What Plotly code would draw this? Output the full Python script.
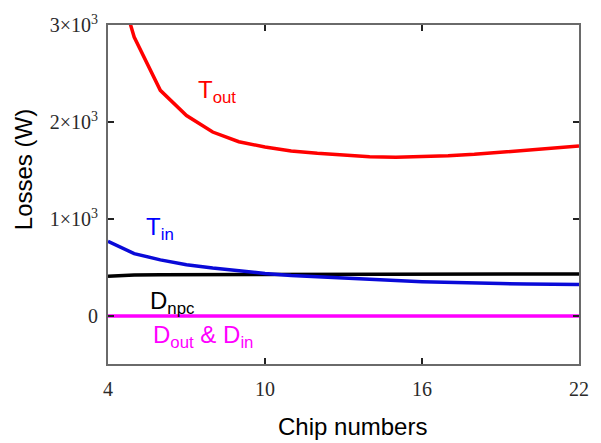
import plotly.graph_objects as go

chips = [4, 5, 6, 7, 8, 9, 10, 11, 12, 13, 14, 15, 16, 17, 18, 19, 20, 21, 22]
t_out = [3800, 2880, 2330, 2070, 1900, 1800, 1745, 1705, 1680, 1660, 1645, 1640, 1645, 1655, 1670, 1690, 1710, 1730, 1755]
t_in = [772, 645, 580, 530, 495, 465, 440, 420, 405, 392, 380, 366, 355, 347, 340, 335, 332, 330, 325]
d_npc = [410, 424, 426, 427, 428, 429, 430, 430, 431, 432, 432, 433, 433, 433, 434, 434, 434, 435, 435]
d_out_in = [0] * len(chips)

x_ticks = [4, 10, 16, 22]
x_ticklabels = ["4", "10", "16", "22"]
y_ticks = [0, 1000, 2000, 3000]
y_ticklabels = ["0", "1×10<sup>3</sup>", "2×10<sup>3</sup>", "3×10<sup>3</sup>"]

fig = go.Figure()
fig.add_trace(go.Scatter(x=chips, y=d_out_in, mode="lines", line=dict(color="#ff00ff", width=3.5)))
fig.add_trace(go.Scatter(x=chips, y=d_npc, mode="lines", line=dict(color="#000000", width=3.5)))
fig.add_trace(go.Scatter(x=chips, y=t_in, mode="lines", line=dict(color="#0a0ad8", width=3.5)))
fig.add_trace(go.Scatter(x=chips, y=t_out, mode="lines", line=dict(color="#ff0000", width=3.5)))

lab_font = dict(family="Liberation Sans, Arial, sans-serif", size=24)
annotations = [
    dict(text="T<sub>out</sub>", x=197, y=88, color="#ff0000"),
    dict(text="T<sub>in</sub>", x=144, y=227, color="#0000ff"),
    dict(text="D<sub>npc</sub>", x=148, y=302, color="#000000"),
    dict(text="D<sub>out</sub> & D<sub>in</sub>", x=151, y=336, color="#ff00ff"),
]
W, H = 601, 443
for a in annotations:
    fig.add_annotation(
        text=a["text"], xref="paper", yref="paper",
        x=(a["x"] - 108) / (584 - 108), y=(364 - a["y"]) / (364 - 21),
        xanchor="left", yanchor="middle", showarrow=False,
        font=dict(lab_font, color=a["color"]),
    )

fig.add_annotation(text="Chip numbers", xref="paper", yref="paper",
                   x=(355 - 108) / (584 - 108), y=(364 - 427) / (364 - 21),
                   xanchor="center", yanchor="middle", showarrow=False,
                   font=dict(family="Liberation Sans, Arial, sans-serif", size=24, color="#000000"))
fig.add_annotation(text="Losses (W)", xref="paper", yref="paper",
                   x=(22 - 108) / (584 - 108), y=(364 - 167) / (364 - 21),
                   xanchor="center", yanchor="middle", showarrow=False, textangle=-90,
                   font=dict(family="Liberation Sans, Arial, sans-serif", size=24, color="#000000"))

axis_common = dict(
    showline=True, linecolor="#6a6a6a", linewidth=2, mirror="ticks",
    ticks="inside", ticklen=6, tickwidth=1.5, tickcolor="#222222",
    showgrid=False, zeroline=False,
    tickfont=dict(family="Liberation Serif, Times New Roman, serif", size=20, color="#2a2a2a"),
)
fig.update_xaxes(range=[4, 22], tickvals=x_ticks, ticktext=x_ticklabels, ticklabelstandoff=6, **axis_common)
fig.update_yaxes(range=[-495, 3005], tickvals=y_ticks, ticktext=y_ticklabels, ticklabelstandoff=4, **axis_common)

fig.update_layout(
    width=W, height=H, showlegend=False,
    margin=dict(l=108, r=17, t=21, b=79),
    plot_bgcolor="white", paper_bgcolor="white",
)
fig.write_html("out.html", config={"displayModeBar": False},
               post_script="document.body.style.margin='0';document.body.style.overflow='hidden';")
